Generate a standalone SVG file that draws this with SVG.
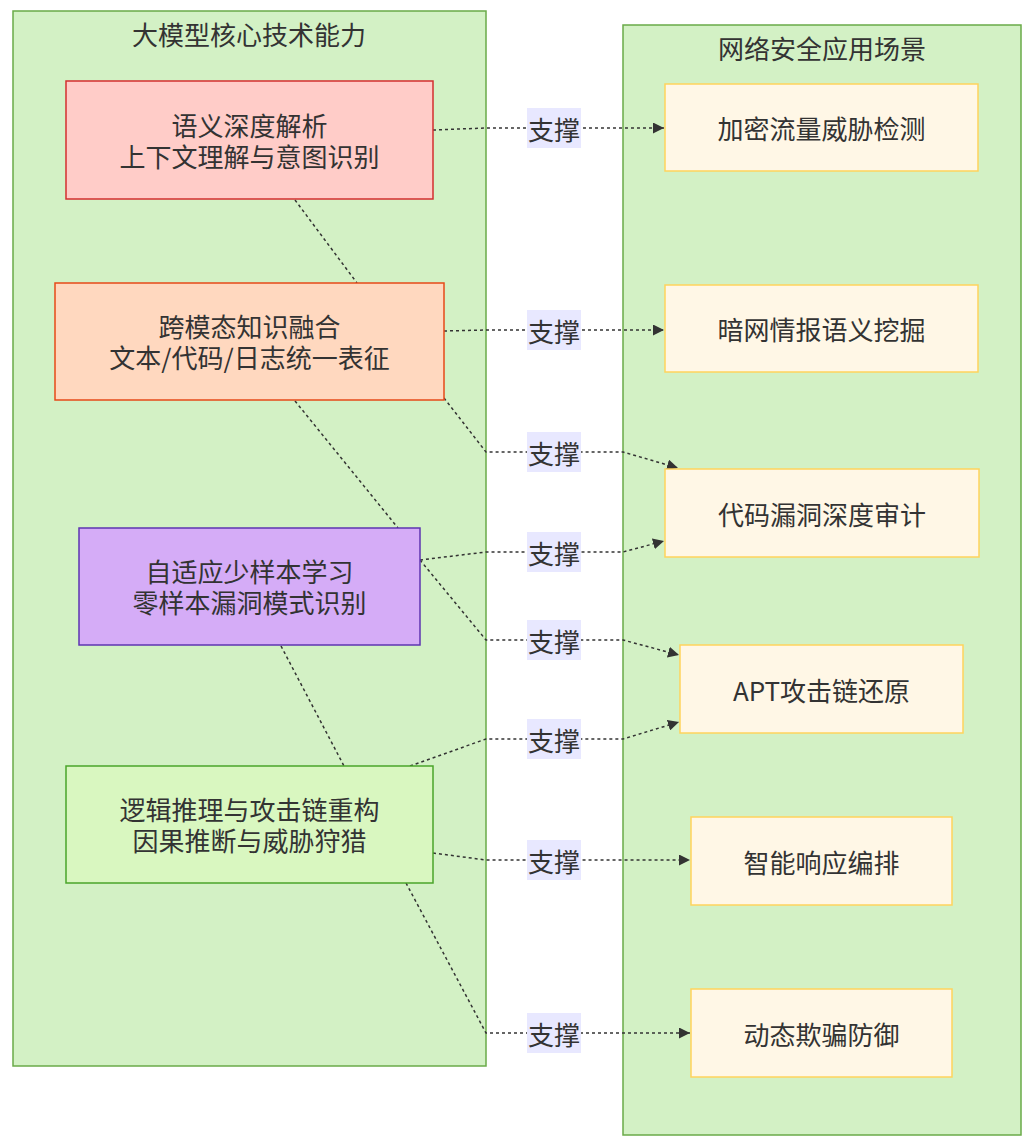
<svg xmlns="http://www.w3.org/2000/svg" width="1033" height="1148" viewBox="0 0 1033 1148">
<style>
text{font-family:"Noto Sans CJK SC","Noto Sans",sans-serif;font-size:26px;fill:#333;text-anchor:middle;dominant-baseline:central}
.cluster{fill:#d3f1c5;stroke:#6aaa48;stroke-width:1.5}
.out{fill:#fff7e6;stroke:#ffd35c;stroke-width:1.5}
.edge{fill:none;stroke:#333;stroke-width:1.5;stroke-dasharray:3,3}
.lbl{fill:#e8e8ff}
</style>
<defs>
<marker id="arr" viewBox="0 0 10 10" refX="10" refY="5" markerWidth="11" markerHeight="11" markerUnits="userSpaceOnUse" orient="auto">
<path d="M0,0 L10,5 L0,10 z" fill="#333"/>
</marker>
</defs>
<rect width="1033" height="1148" fill="#fff"/>
<g id="cluster-left">
<rect class="cluster" x="13" y="11" width="473" height="1055"/>
<text x="249" y="33">大模型核心技术能力</text>
</g>
<g id="cluster-right">
<rect class="cluster" x="623" y="25" width="398" height="1110"/>
<text x="822" y="47">网络安全应用场景</text>
</g>
<g id="edges">
<path class="edge" d="M295,200 L357,283"/>
<path class="edge" d="M295,401 L398,528"/>
<path class="edge" d="M281,646 L344,766"/>
<path class="edge" d="M433,130 L486,128 L623,128 L664,128" marker-end="url(#arr)"/>
<path class="edge" d="M444,331 L486,330 L623,330 L664,330" marker-end="url(#arr)"/>
<path class="edge" d="M444,398 L486,452 L623,452 L678,468" marker-end="url(#arr)"/>
<path class="edge" d="M420,560 L486,552 L623,552 L664,541" marker-end="url(#arr)"/>
<path class="edge" d="M420,560 L486,640 L623,640 L679,655" marker-end="url(#arr)"/>
<path class="edge" d="M410,766 L486,739 L623,739 L679,722" marker-end="url(#arr)"/>
<path class="edge" d="M433,853 L486,860 L623,860 L690,860" marker-end="url(#arr)"/>
<path class="edge" d="M406,883 L486,1033 L623,1033 L690,1033" marker-end="url(#arr)"/>
<g id="edge-labels">
<rect class="lbl" x="527" y="108" width="54" height="40"/><text x="554" y="128">支撑</text>
<rect class="lbl" x="527" y="310" width="54" height="40"/><text x="554" y="330">支撑</text>
<rect class="lbl" x="527" y="432" width="54" height="40"/><text x="554" y="452">支撑</text>
<rect class="lbl" x="527" y="532" width="54" height="40"/><text x="554" y="552">支撑</text>
<rect class="lbl" x="527" y="620" width="54" height="40"/><text x="554" y="640">支撑</text>
<rect class="lbl" x="527" y="719" width="54" height="40"/><text x="554" y="739">支撑</text>
<rect class="lbl" x="527" y="840" width="54" height="40"/><text x="554" y="860">支撑</text>
<rect class="lbl" x="527" y="1013" width="54" height="40"/><text x="554" y="1033">支撑</text>
</g>
</g>
<g id="node-semantic">
<rect x="66" y="81" width="367" height="118" fill="#ffccc8" stroke="#d32f2f" stroke-width="1.5"/>
<text x="249.5" y="124">语义深度解析</text>
<text x="249.5" y="155">上下文理解与意图识别</text>
</g>
<g id="node-multimodal">
<rect x="55" y="283" width="389" height="117" fill="#ffd8bf" stroke="#e64a19" stroke-width="1.5"/>
<text x="249.5" y="325">跨模态知识融合</text>
<text x="249.5" y="356">文本/代码/日志统一表征</text>
</g>
<g id="node-fewshot">
<rect x="79" y="528" width="341" height="117" fill="#d5acf7" stroke="#5e35b1" stroke-width="1.5"/>
<text x="249.5" y="570">自适应少样本学习</text>
<text x="249.5" y="601">零样本漏洞模式识别</text>
</g>
<g id="node-reasoning">
<rect x="66" y="766" width="367" height="117" fill="#d9f7c0" stroke="#4aa52a" stroke-width="1.5"/>
<text x="249.5" y="808">逻辑推理与攻击链重构</text>
<text x="249.5" y="839">因果推断与威胁狩猎</text>
</g>
<g id="node-traffic">
<rect class="out" x="665" y="84" width="313" height="87"/>
<text x="821.5" y="127.5">加密流量威胁检测</text>
</g>
<g id="node-darkweb">
<rect class="out" x="665" y="285" width="313" height="87"/>
<text x="821.5" y="328.5">暗网情报语义挖掘</text>
</g>
<g id="node-codeaudit">
<rect class="out" x="665" y="469" width="314" height="88"/>
<text x="822" y="513">代码漏洞深度审计</text>
</g>
<g id="node-apt">
<rect class="out" x="680" y="645" width="283" height="88"/>
<text x="821.5" y="689">APT攻击链还原</text>
</g>
<g id="node-response">
<rect class="out" x="691" y="817" width="261" height="88"/>
<text x="821.5" y="861">智能响应编排</text>
</g>
<g id="node-deception">
<rect class="out" x="691" y="989" width="261" height="88"/>
<text x="821.5" y="1033">动态欺骗防御</text>
</g>
</svg>
